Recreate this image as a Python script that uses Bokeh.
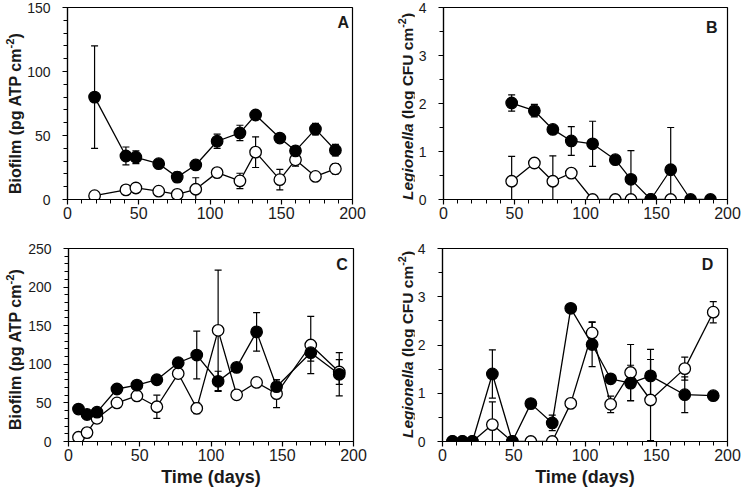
from bokeh.plotting import figure
from bokeh.models import ColumnDataSource, Whisker, TeeHead, Label, SingleIntervalTicker, Range1d, Div
from bokeh.layouts import column, row
from bokeh.embed import file_html
from bokeh.resources import INLINE

FONT = "Liberation Sans"
INK = "#1a1a1a"

# ---------------- data ----------------
# Panel A: biofilm ATP
A_days = [19, 41, 48, 64, 77, 90, 105, 121, 132, 149, 160, 174, 188]
A_black = [80, 34, 33, 28, 17.5, 27, 45.5, 52, 66, 48, 38, 55, 38.5]
A_black_err = [40, 7, 5, 2, 4, 3, 5.5, 6, 3, 2, 3, 4.5, 4.5]
A_white = [3, 7.5, 9, 6.5, 4, 8, 21, 14.5, 37, 15.5, 31, 18, 24]
A_white_err = [0, 0, 0, 0, 0, 9, 0, 6, 12, 8, 5, 2, 4]

# Panel B: Legionella
B_black_days = [48, 64, 77, 90, 105, 121, 132, 146, 160, 174, 188]
B_black = [2.01, 1.85, 1.46, 1.22, 1.16, 0.83, 0.42, 0, 0.62, 0, 0]
B_black_err = [0.17, 0.13, 0.05, 0.3, 0.47, 0, 0.6, 0, 0.88, 0, 0]
B_white_days = [48, 64, 77, 90, 105, 121, 132, 146, 160]
B_white = [0.38, 0.76, 0.38, 0.55, 0, 0, 0, 0, 0]
B_white_err = [0.52, 0, 0.53, 0, 0, 0, 0, 0, 0]

# Panel C: biofilm ATP
C_days = [7, 13, 20, 34, 48, 62, 77, 90, 105, 118, 132, 146, 170, 190]
C_black = [42, 35, 38, 68, 73, 80, 102, 112, 78, 96, 142, 71, 115, 87]
C_black_err = [0, 0, 0, 0, 0, 0, 0, 31, 13, 0, 25, 9, 11, 28]
C_white = [5.5, 11.5, 30, 50, 59, 45, 88, 43, 144, 60.5, 76.5, 62, 125, 90]
C_white_err = [0, 0, 4, 0, 0, 15, 0, 7, 78, 0, 0, 18, 37, 16]

# Panel D: Legionella
D_days = [7, 14, 21, 35, 49, 62, 77, 90, 105, 118, 132, 146, 170, 190]
D_black = [0, 0, 0, 1.40, 0, 0.785, 0.385, 2.76, 2.01, 1.30, 1.21, 1.36, 0.97, 0.95]
D_black_err = [0, 0, 0, 0.5, 0, 0, 0.16, 0, 0.46, 0, 0.37, 0.55, 0.37, 0]
D_white = [0, 0, 0, 0.35, 0, 0, 0, 0.79, 2.25, 0.77, 1.43, 0.86, 1.51, 2.68]
D_white_err = [0, 0, 0, 0.47, 0, 0, 0, 0, 0.23, 0.17, 0.58, 0.84, 0.24, 0.22]

Y_BIOFILM = "Biofilm (pg ATP cm<sup style='font-size:70%'>-2</sup>)"
Y_LEGIONELLA = "<i>Legionella</i> (log CFU cm<sup style='font-size:70%'>-2</sup>)"
X_LABEL = "Time (days)"


def add_err(p, x, y, e):
    full = [(xi, yi - ei, yi + ei) for xi, yi, ei in zip(x, y, e) if ei > 0 and yi - ei >= 0]
    clip = [(xi, 0.0, yi + ei) for xi, yi, ei in zip(x, y, e) if ei > 0 and yi - ei < 0]
    for rows, low_head in ((full, True), (clip, False)):
        if not rows:
            continue
        src = ColumnDataSource(dict(base=[r[0] for r in rows], lower=[r[1] for r in rows],
                                    upper=[r[2] for r in rows]))
        w = Whisker(source=src, base="base", lower="lower", upper="upper",
                    line_color="black", line_width=1.2, level="underlay",
                    upper_head=TeeHead(size=7, line_color="black", line_width=1.2),
                    lower_head=TeeHead(size=7, line_color="black", line_width=1.2) if low_head else None)
        p.add_layout(w)


def panel(width, height, bl, br, bt, bb, ymax, ymaj, yminor, xb, yb, eb, xw, yw, ew,
          letter, lx, ly, xlabel):
    p = figure(width=width, height=height, x_range=Range1d(0, 200), y_range=Range1d(0, ymax),
               output_backend="svg", toolbar_location=None,
               min_border_left=bl, min_border_right=br, min_border_top=bt, min_border_bottom=bb)
    p.xgrid.visible = False
    p.ygrid.visible = False
    p.outline_line_color = "black"
    p.outline_line_width = 1.2
    p.outline_line_alpha = 1.0
    p.xaxis.ticker = SingleIntervalTicker(interval=50, num_minor_ticks=5)
    p.yaxis.ticker = SingleIntervalTicker(interval=ymaj, num_minor_ticks=yminor)
    for ax in (p.xaxis[0], p.yaxis[0]):
        ax.axis_line_color = "black"
        ax.axis_line_width = 1.2
        ax.major_tick_line_color = "black"
        ax.minor_tick_line_color = "black"
        ax.major_tick_line_width = 1.2
        ax.minor_tick_line_width = 1.0
        ax.major_tick_out = 5
        ax.major_tick_in = 0
        ax.minor_tick_out = 4
        ax.minor_tick_in = 0
        ax.major_label_text_font = FONT
        ax.major_label_text_color = INK
    p.yaxis.major_label_text_font_size = "14px"
    p.xaxis.major_label_text_font_size = "16px"
    p.yaxis.major_label_standoff = 12
    p.xaxis.major_label_standoff = 2
    if xlabel:
        p.xaxis.axis_label = xlabel
        p.xaxis.axis_label_text_font = FONT
        p.xaxis.axis_label_text_font_size = "18px"
        p.xaxis.axis_label_text_font_style = "bold"
        p.xaxis.axis_label_text_color = INK
        p.xaxis.axis_label_standoff = 3

    add_err(p, xw, yw, ew)
    add_err(p, xb, yb, eb)
    p.line(xw, yw, line_color="black", line_width=1.3)
    p.line(xb, yb, line_color="black", line_width=1.3)
    p.scatter(xw, yw, marker="circle", size=11.5, fill_color="white", line_color="black", line_width=1.3)
    p.scatter(xb, yb, marker="circle", size=11.5, fill_color="black", line_color="black", line_width=1.3)

    p.add_layout(Label(x=lx, y=ly, text=letter, text_align="right", text_baseline="top",
                       text_font=FONT, text_font_size="16px", text_font_style="bold",
                       text_color=INK))
    return p


def title_strip(width, height, html, size, pad, line):
    # vertical y-axis title, reading bottom to top
    return Div(text=html, width=width, height=height, margin=0, styles={
        "writing-mode": "vertical-rl", "transform": "rotate(180deg)",
        "font-family": FONT, "font-weight": "bold", "font-size": size,
        "line-height": f"{line}px", "text-align": "center", "color": INK,
        "white-space": "nowrap", "box-sizing": "border-box", "padding-top": f"{pad}px",
        "overflow": "visible"})


H1, H2 = 228, 262

tA = title_strip(24, H1, Y_BIOFILM, "16px", 0, 20)
pA = panel(366, H1, 43, 38, 7, 29, 150, 50, 5,
           A_days, A_black, A_black_err, A_days, A_white, A_white_err,
           "A", 197.5, 145, None)
tB = title_strip(24, H1, Y_LEGIONELLA, "15.5px", 16, 24)
pB = panel(328, H1, 29, 15, 7, 29, 4, 1, 2,
           B_black_days, B_black, B_black_err, B_white_days, B_white, B_white_err,
           "B", 193, 3.77, None)

tC = title_strip(24, H2, Y_BIOFILM, "16px", 18, 20)
pC = panel(366, H2, 44, 37, 20, 49, 250, 50, 5,
           C_days, C_black, C_black_err, C_days, C_white, C_white_err,
           "C", 196, 240, X_LABEL)
tD = title_strip(24, H2, Y_LEGIONELLA, "15.5px", 30, 24)
pD = panel(328, H2, 28, 15, 20, 49, 4, 1, 2,
           D_days, D_black, D_black_err, D_days, D_white, D_white_err,
           "D", 190, 3.85, X_LABEL)

layout = column(row(tA, pA, tB, pB, spacing=0), row(tC, pC, tD, pD, spacing=0), spacing=0)
open("out.html", "w").write(file_html(layout, INLINE))
